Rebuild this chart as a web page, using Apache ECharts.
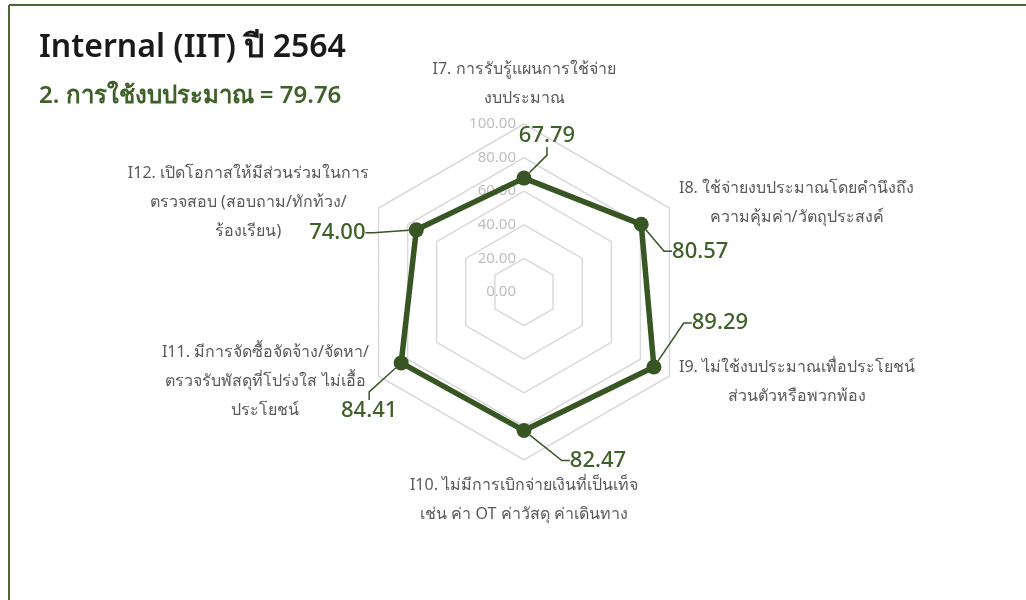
<!DOCTYPE html>
<html>
<head>
<meta charset="utf-8">
<script src="https://cdn.jsdelivr.net/npm/echarts@6/dist/echarts.min.js"></script>
<style>
html,body{margin:0;padding:0;background:#fff;}
#chart{width:1026px;height:600px;}
</style>
</head>
<body>
<div id="chart"></div>
<script>
// ---- data ----
const titleText = 'Internal (IIT) ปี 2564';
const subTitleText = '2. การใช้งบประมาณ = 79.76';
// categories in clockwise order starting at the top
const categories = [
  'I7. การรับรู้แผนการใช้จ่าย\nงบประมาณ',
  'I8. ใช้จ่ายงบประมาณโดยคำนึงถึง\nความคุ้มค่า/วัตถุประสงค์',
  'I9. ไม่ใช้งบประมาณเพื่อประโยชน์\nส่วนตัวหรือพวกพ้อง',
  'I10. ไม่มีการเบิกจ่ายเงินที่เป็นเท็จ\nเช่น ค่า OT ค่าวัสดุ ค่าเดินทาง',
  'I11. มีการจัดซื้อจัดจ้าง/จัดหา/\nตรวจรับพัสดุที่โปร่งใส ไม่เอื้อ\nประโยชน์',
  'I12. เปิดโอกาสให้มีส่วนร่วมในการ\nตรวจสอบ (สอบถาม/ทักท้วง/\nร้องเรียน)'
];
const values = [67.79, 80.57, 89.29, 82.47, 84.41, 74.00];
const axisMin = 0;
const axisMax = 100;
const axisSplits = 5;
// label offsets (style) in the same order as categories
const labelOffsets = [[23, -42], [59, 27], [66, -44], [74, 30], [-32, 48], [-79, 3]];

// ECharts radar runs counter-clockwise: reorder to keep the reference's clockwise order
const order = [0, 5, 4, 3, 2, 1];
const indicators = order.map((i, k) => {
  const ind = { name: categories[i], min: axisMin, max: axisMax };
  if (k === 0) {
    ind.axisLabel = {
      show: true,
      color: '#bfbfbf',
      fontSize: 15,
      fontFamily: 'Noto Sans, sans-serif',
      formatter: v => Number(v).toFixed(2)
    };
  }
  return ind;
});
const seriesValues = order.map(i => values[i]);

const GREEN = '#375623';
const LABEL_GREEN = '#3d6128';

const chart = echarts.init(document.getElementById('chart'), null, { renderer: 'canvas' });
chart.setOption({
  backgroundColor: '#ffffff',
  animation: false,
  title: {
    text: titleText,
    subtext: subTitleText,
    left: 34,
    top: 27,
    itemGap: 20,
    textStyle: { fontSize: 32, color: '#1a1a1a', fontWeight: 600, fontFamily: 'Noto Sans, sans-serif' },
    subtextStyle: { fontSize: 24, color: LABEL_GREEN, fontWeight: 600, fontFamily: 'Noto Sans, sans-serif' }
  },
  graphic: [
    { type: 'line', shape: { x1: 9, y1: 5, x2: 1026, y2: 5 }, style: { stroke: '#4a6a32', lineWidth: 2 } },
    { type: 'line', shape: { x1: 9, y1: 5, x2: 9, y2: 600 }, style: { stroke: '#4a6a32', lineWidth: 2 } }
  ],
  radar: {
    center: [524, 292],
    radius: 168,
    startAngle: 90,
    splitNumber: axisSplits,
    shape: 'polygon',
    indicator: indicators,
    nameGap: 11,
    axisName: {
      color: '#595959',
      fontSize: 16,
      fontFamily: 'Noto Sans, sans-serif',
      formatter: (name) => name.split('\n').map(l => '{c|' + l + '}').join('\n'),
      rich: { c: { align: 'center', color: '#595959', fontSize: 16, lineHeight: 29, fontFamily: 'Noto Sans, sans-serif' } }
    },
    axisLine: { show: false },
    axisTick: { show: false },
    axisLabel: { show: false },
    splitLine: { lineStyle: { color: '#d9d9d9', width: 1.5 } },
    splitArea: { show: false }
  },
  series: [{
    type: 'radar',
    symbol: 'circle',
    symbolSize: 15,
    lineStyle: { color: GREEN, width: 5.5 },
    itemStyle: { color: GREEN },
    label: {
      show: true,
      position: 'inside',
      color: LABEL_GREEN,
      fontSize: 22,
      fontWeight: 500,
      fontFamily: 'Noto Sans, sans-serif',
      formatter: p => {
        const v = Array.isArray(p.value) ? p.value[p.dimensionIndex] : p.value;
        return Number(v).toFixed(2);
      }
    },
    labelLine: { show: true, length2: 8, lineStyle: { color: GREEN, width: 1.5 } },
    labelLayout: (params) => {
      const idx = values.findIndex(v => v.toFixed(2) === params.text);
      const off = labelOffsets[idx] || [0, 0];
      return { dx: off[0], dy: off[1] };
    },
    data: [{ value: seriesValues, name: 'Internal' }]
  }]
});
</script>
</body>
</html>
